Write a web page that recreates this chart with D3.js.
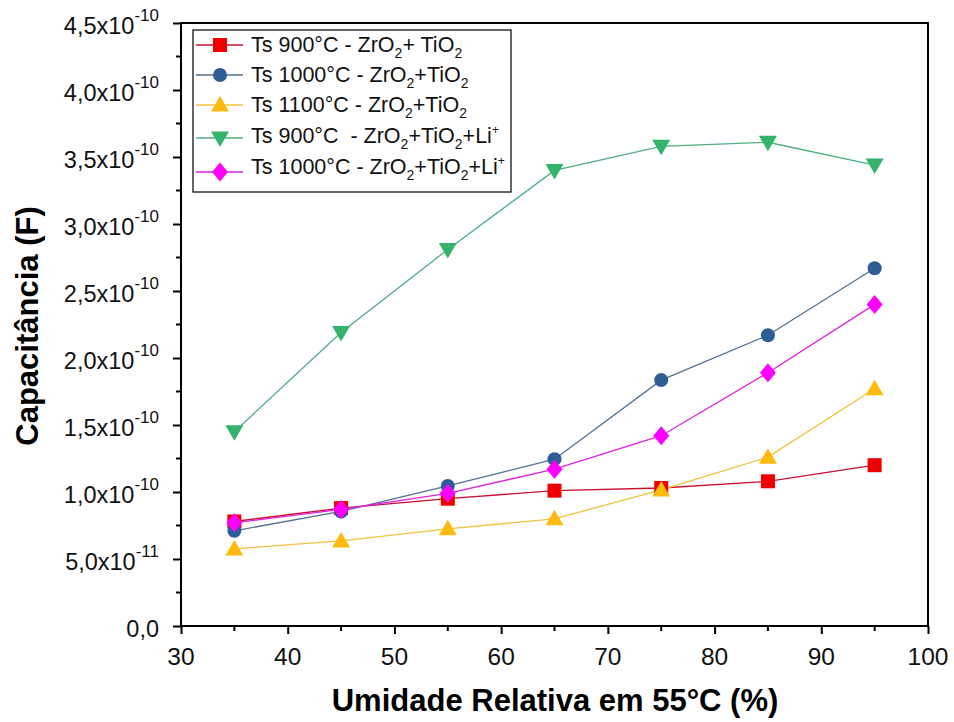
<!DOCTYPE html>
<html>
<head>
<meta charset="utf-8">
<script src="https://cdn.jsdelivr.net/npm/d3@7"></script>
<style>
  body { margin: 0; background: #fff; }
  svg { display: block; font-family: Arial, "Liberation Sans", sans-serif; }
  .legend text { white-space: pre; }
</style>
</head>
<body>
<svg id="chart" width="954" height="722"></svg>
<script>
// Relative humidity (%) at 55 °C
const humidity = [35, 45, 55, 65, 75, 85, 95];

// Capacitance values, in units of 1e-10 F
const ts900 = [0.78, 0.88, 0.95, 1.01, 1.03, 1.08, 1.20];
const ts1000 = [0.71, 0.855, 1.045, 1.245, 1.835, 2.17, 2.67];
const ts1100 = [0.575, 0.635, 0.725, 0.80, 1.015, 1.26, 1.77];
const ts900Li = [1.45, 2.19, 2.81, 3.40, 3.58, 3.61, 3.44];
const ts1000Li = [0.77, 0.87, 0.99, 1.17, 1.42, 1.89, 2.40];

const xTicks = [30, 40, 50, 60, 70, 80, 90, 100];
const yTickMant = ["0,0", "5,0", "1,0", "1,5", "2,0", "2,5", "3,0", "3,5", "4,0", "4,5"];
const yTickExp = ["", "-11", "-10", "-10", "-10", "-10", "-10", "-10", "-10", "-10"];

const series = [
  { name: ["Ts 900°C - ZrO", "2", "+ TiO", "2", ""], values: ts900, line: "#c8102e", fill: "#ee0000", symbol: "square" },
  { name: ["Ts 1000°C - ZrO", "2", "+TiO", "2", ""], values: ts1000, line: "#52708f", fill: "#2e5c94", symbol: "circle" },
  { name: ["Ts 1100°C - ZrO", "2", "+TiO", "2", ""], values: ts1100, line: "#f2c13c", fill: "#ffba10", symbol: "triangleUp" },
  { name: ["Ts 900°C  - ZrO", "2", "+TiO", "2", "+Li", "+"], values: ts900Li, line: "#4fae7e", fill: "#34b46a", symbol: "triangleDown" },
  { name: ["Ts 1000°C - ZrO", "2", "+TiO", "2", "+Li", "+"], values: ts1000Li, line: "#e020e0", fill: "#ff00ff", symbol: "diamond" }
];

const svg = d3.select("#chart");
const plotLeft = 181, plotRight = 928, plotTop = 23, plotBottom = 626;

const x = d3.scaleLinear().domain([30, 100]).range([plotLeft, plotRight]);
const y = d3.scaleLinear().domain([0, 4.5]).range([plotBottom, plotTop]);

// frame
svg.append("rect")
  .attr("x", plotLeft).attr("y", plotTop)
  .attr("width", plotRight - plotLeft).attr("height", plotBottom - plotTop)
  .attr("fill", "none").attr("stroke", "#000").attr("stroke-width", 2);

// x axis
const xAxis = svg.append("g").attr("transform", `translate(0,${plotBottom})`);
xAxis.call(d3.axisBottom(x).tickValues(xTicks).tickSize(8).tickFormat(""));
xAxis.select(".domain").remove();
xAxis.selectAll(".tick line").attr("stroke-width", 2);
xAxis.selectAll(".minor").data(d3.range(35, 100, 10)).enter().append("line")
  .attr("x1", d => x(d)).attr("x2", d => x(d)).attr("y1", 0).attr("y2", 5)
  .attr("stroke", "#000").attr("stroke-width", 2);
svg.append("g").selectAll("text").data(xTicks).enter().append("text")
  .attr("x", d => x(d)).attr("y", 665)
  .attr("text-anchor", "middle").attr("font-size", 24.5).attr("fill", "#111")
  .text(d => d);

// y axis
const yVals = d3.range(0, 4.51, 0.5);
const yAxis = svg.append("g").attr("transform", `translate(${plotLeft},0)`);
yAxis.call(d3.axisLeft(y).tickValues(yVals).tickSize(8).tickFormat(""));
yAxis.select(".domain").remove();
yAxis.selectAll(".tick line").attr("stroke-width", 2);
yAxis.selectAll(".minor").data(d3.range(0.25, 4.5, 0.5)).enter().append("line")
  .attr("y1", d => y(d)).attr("y2", d => y(d)).attr("x1", 0).attr("x2", -5)
  .attr("stroke", "#000").attr("stroke-width", 2);

const yLab = svg.append("g");
yVals.forEach((v, i) => {
  const t = yLab.append("text")
    .attr("x", 159).attr("y", y(v) + 11)
    .attr("text-anchor", "end").attr("font-size", 23.5).attr("fill", "#111");
  if (yTickExp[i] === "") {
    t.text(yTickMant[i]);
  } else {
    t.append("tspan").text(yTickMant[i] + "x10");
    t.append("tspan").attr("font-size", 17).attr("dy", -13).text(yTickExp[i]);
  }
});

// axis titles
svg.append("text")
  .attr("x", 555).attr("y", 711)
  .attr("text-anchor", "middle").attr("font-size", 31).attr("font-weight", "bold")
  .text("Umidade Relativa em 55°C (%)");
svg.append("text")
  .attr("transform", `translate(38,326) rotate(-90)`)
  .attr("text-anchor", "middle").attr("font-size", 31).attr("font-weight", "bold")
  .text("Capacitância (F)");

// marker shapes
function marker(g, symbol, fill, cx, cy) {
  if (symbol === "square") {
    g.append("rect").attr("x", cx - 7).attr("y", cy - 7).attr("width", 14).attr("height", 14).attr("fill", fill);
  } else if (symbol === "circle") {
    g.append("circle").attr("cx", cx).attr("cy", cy).attr("r", 7).attr("fill", fill);
  } else if (symbol === "triangleUp") {
    g.append("path").attr("d", `M${cx},${cy - 9}L${cx + 9},${cy + 6.5}L${cx - 9},${cy + 6.5}Z`).attr("fill", fill);
  } else if (symbol === "triangleDown") {
    g.append("path").attr("d", `M${cx},${cy + 9}L${cx + 9},${cy - 6.5}L${cx - 9},${cy - 6.5}Z`).attr("fill", fill);
  } else if (symbol === "diamond") {
    g.append("path").attr("d", `M${cx},${cy - 9.5}L${cx + 8},${cy}L${cx},${cy + 9.5}L${cx - 8},${cy}Z`).attr("fill", fill);
  }
}

const line = d3.line().x((d, i) => x(humidity[i])).y(d => y(d));

const plot = svg.append("g");
series.forEach(s => {
  plot.append("path").datum(s.values)
    .attr("d", line).attr("fill", "none")
    .attr("stroke", s.line).attr("stroke-width", 1.3);
});
series.forEach(s => {
  const g = plot.append("g");
  s.values.forEach((v, i) => marker(g, s.symbol, s.fill, x(humidity[i]), y(v)));
});

// legend
const lg = svg.append("g").attr("class", "legend");
lg.append("rect").attr("x", 193).attr("y", 30).attr("width", 318).attr("height", 162)
  .attr("fill", "#fff").attr("stroke", "#000").attr("stroke-width", 1.2);
const rowY = [45, 75, 105, 138, 172];
const baseY = [52, 82, 112, 143, 174];
series.forEach((s, i) => {
  const cy = rowY[i];
  lg.append("line").attr("x1", 196).attr("x2", 243).attr("y1", cy).attr("y2", cy)
    .attr("stroke", s.line).attr("stroke-width", 1.3);
  marker(lg, s.symbol, s.fill, 220, cy);
  const t = lg.append("text").attr("x", 251).attr("y", baseY[i]).attr("font-size", 21.5).attr("fill", "#111");
  const parts = s.name;
  t.append("tspan").text(parts[0]);
  t.append("tspan").attr("font-size", 14).attr("dy", 6).text(parts[1]);
  t.append("tspan").attr("dy", -6).text(parts[2]);
  t.append("tspan").attr("font-size", 14).attr("dy", 6).text(parts[3]);
  if (parts[4]) {
    t.append("tspan").attr("dy", -6).text(parts[4]);
    t.append("tspan").attr("font-size", 12).attr("dy", -9).text(parts[5]);
  }
});
</script>
</body>
</html>
